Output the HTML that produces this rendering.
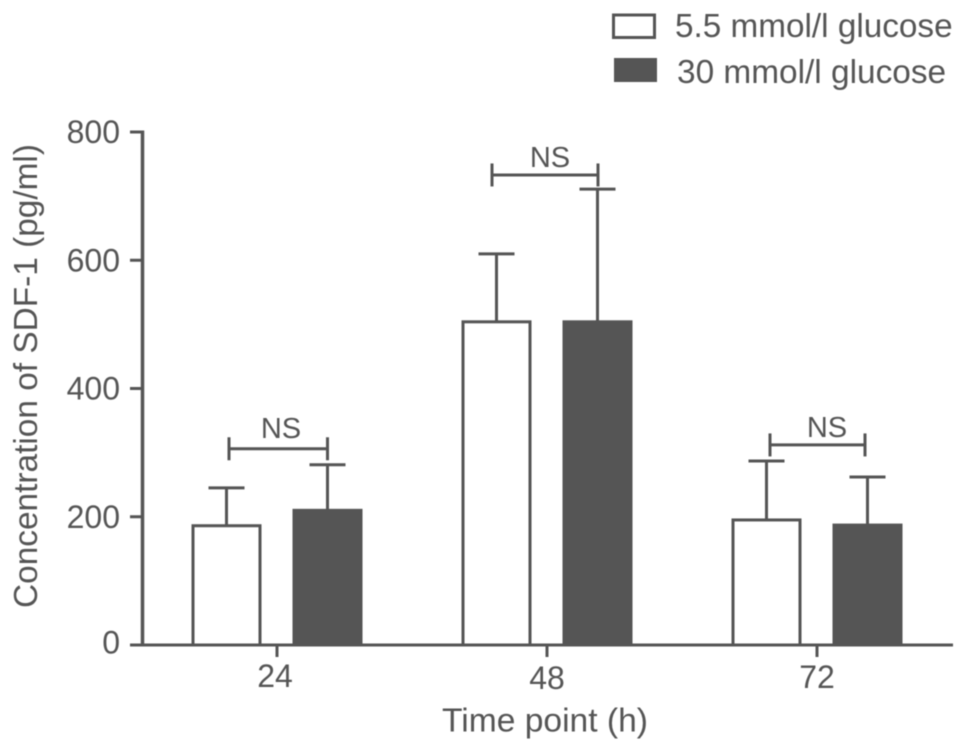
<!DOCTYPE html>
<html>
<head>
<meta charset="utf-8">
<style>
html,body{margin:0;padding:0;background:#fff;width:969px;height:753px;overflow:hidden}
svg{display:block;filter:blur(0.5px)}
text{font-family:"Liberation Sans",sans-serif;fill:#555}
</style>
</head>
<body>
<svg id="chart" width="969" height="753" viewBox="0 0 969 753" xmlns="http://www.w3.org/2000/svg"></svg>
<script>
const categories = ['24', '48', '72'];
const lowGlucose = [186, 504, 195];
const highGlucose = [210, 504, 187];
const lowError = [245, 610, 287];
const highError = [281, 711, 262];
const yTicks = [0, 200, 400, 600, 800];
const seriesNames = ['5.5 mmol/l glucose', '30 mmol/l glucose'];
const sigLabels = ['NS', 'NS', 'NS'];
const sigLevels = [306, 733, 312];

const svg = document.getElementById('chart');
const NS = 'http://www.w3.org/2000/svg';
const C = '#555555';
const y = v => 645 - v * (645 - 132) / 800;
const groupX = i => [277, 547, 817][i];
const barW = 67;
const off = 50.5;

function add(tag, attrs, parent, text) {
  const el = document.createElementNS(NS, tag);
  for (const k in attrs) el.setAttribute(k, attrs[k]);
  if (text !== undefined) el.textContent = text;
  (parent || svg).appendChild(el);
  return el;
}
function line(x1, y1, x2, y2, w) {
  const el = add('line', {x1, y1, x2, y2, stroke: C, 'stroke-width': w || 3});
  return el;
}

// axes
const yAxis = line(142.5, 130.5, 142.5, 646.5, 3.5);


const xAxis = line(130, 645, 953, 645);



yTicks.forEach(t => {
  const tick = line(130, y(t), 142, y(t));
  
  
  const lab = add('text', {x: 120, y: y(t) + (t === 0 ? 8.5 : 11), 'text-anchor': 'end', 'font-size': 32}, svg, t);
  
  
});

categories.forEach((c, i) => {
  const cx = groupX(i);
  const tick = line(cx, 645, cx, 657);
  
  
  const lab = add('text', {x: cx + [-2, 0, 0][i], y: [687, 689, 688][i], 'text-anchor': 'middle', 'font-size': 32}, svg, c);
  
  

  const lx = cx - off, hx = cx + off;

  // error bars
  const e1 = line(lx, y(lowGlucose[i]), lx, y(lowError[i]));
  
  
  const c1 = line(lx - 18, y(lowError[i]), lx + 18, y(lowError[i]));
  
  
  const e2 = line(hx, y(highGlucose[i]), hx, y(highError[i]));
  
  
  const c2 = line(hx - 18, y(highError[i]), hx + 18, y(highError[i]));
  
  

  // bars
  const b1 = add('rect', {x: lx - barW / 2, y: y(lowGlucose[i]), width: barW, height: 645 - y(lowGlucose[i]), fill: '#fff', stroke: C, 'stroke-width': 3});
  
  
  const b2 = add('rect', {x: hx - barW / 2, y: y(highGlucose[i]), width: barW, height: 645 - y(highGlucose[i]), fill: C, stroke: C, 'stroke-width': 3});
  
  

  // significance bracket
  const sy = y(sigLevels[i]);
  const left = [229, 492, 770][i], right = [327.5, 598, 865][i];
  const s = line(left, sy, right, sy);
  
  
  const s1 = line(left, sy - 11.5, left, sy + 11.5);
  
  
  const s2 = line(right, sy - 11.5, right, sy + 11.5);
  
  
  const st = add('text', {x: [281, 550, 827][i], y: sy - [11, 8, 8][i], 'text-anchor': 'middle', 'font-size': 29}, svg, sigLabels[i]);
  
  
});

// axis titles
const yTitle = add('text', {x: 0, y: 0, transform: 'translate(37,376) rotate(-90)', 'text-anchor': 'middle', 'font-size': 33.4}, svg, 'Concentration of SDF-1 (pg/ml)');


const xTitle = add('text', {x: 545, y: 731.5, 'text-anchor': 'middle', 'font-size': 33.6}, svg, 'Time point (h)');



// legend
const k1 = add('rect', {x: 613.5, y: 15, width: 41, height: 22.5, fill: '#fff', stroke: C, 'stroke-width': 3});


const l1 = add('text', {x: 675, y: 37, 'font-size': 33.3}, svg, seriesNames[0]);


const k2 = add('rect', {x: 614, y: 58, width: 43, height: 24, fill: C});


const l2 = add('text', {x: 677, y: 83, 'font-size': 33.4}, svg, seriesNames[1]);


</script>
</body>
</html>
